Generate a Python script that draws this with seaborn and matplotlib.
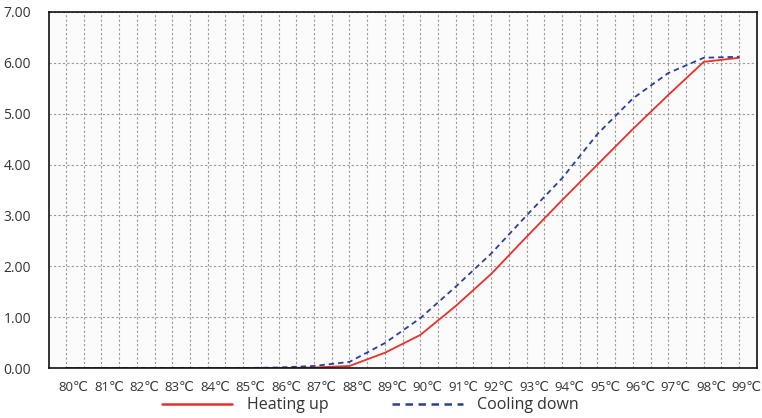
import numpy as np
import pandas as pd
import matplotlib
matplotlib.use('Agg')
import matplotlib.pyplot as plt
import matplotlib.transforms as mtransforms
import seaborn as sns

# podaci ocitani sa slike
temps = list(range(80, 100))
heating = [0, 0, 0, 0, 0, 0, 0, 0.01, 0.04, 0.3, 0.65, 1.22, 1.85, 2.58,
           3.3, 4.0, 4.7, 5.37, 6.02, 6.1]
cooling = [0, 0, 0, 0, 0, 0, 0.01, 0.04, 0.12, 0.49, 0.98, 1.6, 2.25, 3.0,
           3.73, 4.6, 5.3, 5.8, 6.1, 6.12]
series_names = ['Heating up', 'Cooling down']
x_labels = [f'{t}℃' for t in temps]
y_ticks = [0, 1, 2, 3, 4, 5, 6, 7]

df = pd.DataFrame({
    'Temp': temps * 2,
    'Value': heating + cooling,
    'Series': [series_names[0]] * len(temps) + [series_names[1]] * len(temps),
})

sns.set_style('white')
plt.rcParams['font.family'] = ['Open Sans', 'DejaVu Sans']

fig = plt.figure(figsize=(7.62, 4.18), dpi=100)
fig.patch.set_facecolor('white')
ax = fig.add_axes([0.0643, 0.1196, 0.929, 0.8517])
ax.set_facecolor('#fbfbfb')

sns.lineplot(data=df, x='Temp', y='Value', hue='Series', style='Series',
             palette={'Heating up': '#e8312a', 'Cooling down': '#2a3f98'},
             dashes={'Heating up': '', 'Cooling down': (3, 2.2)},
             linewidth=1.3, ax=ax, legend=False)

ax.set_xlim(79.52, 99.4)
ax.set_ylim(0, 7)
ax.set_yticks(y_ticks)
ax.set_yticklabels([f'{v:.2f}' for v in y_ticks], fontsize=10, color='#333333')
ax.set_xticks(temps)
ax.set_xticklabels(x_labels, fontsize=9.5, color='#333333')
ax.set_xticks(np.arange(80, 99.6, 0.5), minor=True)
ax.tick_params(axis='both', which='both', length=0)
ax.tick_params(axis='x', pad=9)
ax.tick_params(axis='y', pad=13)
offset = mtransforms.ScaledTranslation(7.5 / 100, 0, fig.dpi_scale_trans)
for lbl in ax.get_xticklabels():
    lbl.set_transform(lbl.get_transform() + offset)

ax.grid(True, which='both', axis='x', color='#9a9a9a', linestyle=(0, (2, 2)), linewidth=0.8)
ax.grid(True, which='major', axis='y', color='#9a9a9a', linestyle=(0, (2, 2)), linewidth=0.8)
ax.set_xlabel('')
ax.set_ylabel('')
for side in ['left', 'bottom', 'top', 'right']:
    ax.spines[side].set_color('#111111')
    ax.spines[side].set_linewidth(1.2)

handles = [plt.Line2D([], [], color='#e8312a', linewidth=1.8),
           plt.Line2D([], [], color='#2a3f98', linewidth=1.8, linestyle=(0, (3, 2.2)))]
fig.legend(handles, series_names, loc='center', bbox_to_anchor=(0.486, 0.03),
           ncol=2, frameon=False, fontsize=11.5, handlelength=4.4,
           handletextpad=0.9, columnspacing=4.0, labelcolor='#333333')

plt.savefig('out.png', dpi=100)
